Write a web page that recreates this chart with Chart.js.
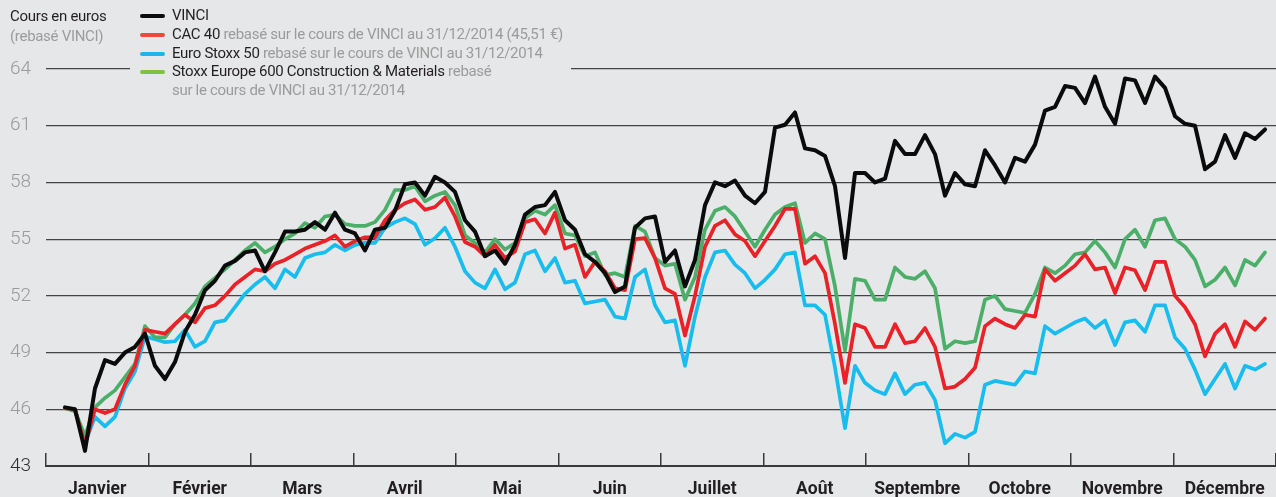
<!DOCTYPE html>
<html><head><meta charset="utf-8">
<script src="https://cdn.jsdelivr.net/npm/chart.js@4/dist/chart.umd.min.js"></script>
<style>
html,body{margin:0;padding:0;background:#e6e7e8;}
#wrap{position:relative;width:1276px;height:497px;overflow:hidden;background:#e6e7e8;font-family:Roboto,sans-serif;}
canvas{position:absolute;left:0;top:0;}
.ttl{position:absolute;left:10px;top:6px;font-size:15px;line-height:20px;color:#231f20;letter-spacing:-0.3px;}
.ttl span{color:#9b9b9b}
#legend{position:absolute;left:130px;top:6px;padding:0 8px 2px 10px;background:#e6e7e8;font-size:15px;line-height:18.8px;color:#231f20;letter-spacing:-0.3px;}
.row{position:relative;padding-left:32px;white-space:nowrap}
.sw{position:absolute;left:0;top:8px;width:25px;height:4px;border-radius:2px}
.g{color:#9b9b9b}
</style></head>
<body><div id="wrap"><canvas id="c" width="1276" height="497"></canvas>
<div class="ttl">Cours en euros<br><span>(rebasé VINCI)</span></div>
<div id="legend"></div>
</div>
<script>
// Month labels (x axis) and y ticks
const months = ["Janvier","Février","Mars","Avril","Mai","Juin","Juillet","Août","Septembre","Octobre","Novembre","Décembre"];
const yMin = 43, yMax = 64, yStep = 3;
// sample dates, in months since 1 January 2015 (first and last sample)
const firstSample = 0.185, lastSample = 11.893;

// Series names
const names = ["VINCI","CAC 40","Euro Stoxx 50","Stoxx Europe 600 Construction & Materials"];
const notes = ["", " rebasé sur le cours de VINCI au 31/12/2014 (45,51 €)", " rebasé sur le cours de VINCI au 31/12/2014", " rebasé<br>sur le cours de VINCI au 31/12/2014"];

// Values (euros, rebased on VINCI)
const vinci = [46.1,46.0,43.8,47.1,48.6,48.4,49.0,49.3,50.0,48.3,
 47.6,48.5,50.1,51.0,52.3,52.8,53.6,53.85,54.3,54.4,
 53.3,54.3,55.4,55.4,55.5,55.9,55.5,56.4,55.5,55.3,
 54.4,55.5,55.6,56.5,57.9,58.0,57.3,58.3,58.0,57.5,
 56.0,55.4,54.1,54.4,53.7,54.7,56.3,56.7,56.8,57.5,
 56.0,55.5,54.2,53.8,53.2,52.2,52.5,55.6,56.1,56.2,
 53.8,
 54.4,52.5,53.9,56.8,58.0,57.8,58.1,57.3,56.9,57.5,
 60.9,61.05,61.7,59.8,59.7,59.4,57.8,54.0,58.5,58.5,
 58.0,58.2,60.2,59.5,59.5,60.5,59.5,57.3,58.5,
 57.9,57.8,59.7,58.9,58.0,59.3,59.1,60.0,61.8,62.0,
 63.1,63.0,62.2,63.6,62.0,61.1,63.5,63.4,62.2,63.6,
 63.0,61.5,61.1,61.0,58.7,59.1,60.5,59.3,60.6,60.3,
 60.8];
const cac40 = [46.06,46.0,44.1,46.0,45.8,46.0,47.3,48.3,50.2,50.1,
 50.0,50.5,51.0,50.6,51.35,51.5,52.0,52.6,53.0,53.4,
 53.3,53.7,53.9,54.2,54.5,54.7,54.9,55.2,54.6,54.9,
 55.1,55.1,56.0,56.55,56.9,57.1,56.55,56.7,57.2,56.2,
 54.85,54.6,54.1,54.7,54.0,54.35,55.9,56.05,55.3,56.4,
 54.5,54.7,53.0,53.8,53.3,52.4,52.3,55.0,55.05,54.0,
 52.4,
 52.1,49.9,52.0,54.6,55.7,56.0,55.25,54.9,54.1,54.9,
 55.7,56.6,56.6,53.7,54.1,53.2,50.5,47.4,50.5,50.3,
 49.3,49.3,50.5,49.5,49.6,50.3,49.3,47.1,47.2,
 47.6,48.2,50.4,50.8,50.5,50.3,51.0,50.9,53.4,52.8,
 53.2,53.6,54.2,53.4,53.5,52.15,53.5,53.35,52.3,53.8,
 53.8,52.0,51.4,50.5,48.8,50.0,50.5,49.3,50.65,50.2,
 50.8];
const euroStoxx50 = [46.06,46.0,44.2,45.6,45.1,45.6,47.1,48.0,49.85,49.7,
 49.55,49.6,50.2,49.3,49.6,50.6,50.7,51.4,52.1,52.6,
 53.0,52.4,53.4,53.0,54.0,54.2,54.3,54.7,54.4,54.7,
 54.8,54.8,55.6,55.9,56.1,55.8,54.7,55.05,55.6,54.6,
 53.3,52.7,52.4,53.4,52.35,52.7,54.2,54.4,53.3,54.0,
 52.7,52.8,51.6,51.7,51.8,50.9,50.8,53.0,53.4,51.5,
 50.6,
 50.7,48.3,50.9,53.0,54.3,54.4,53.65,53.2,52.4,52.85,
 53.4,54.2,54.3,51.5,51.5,51.0,48.2,45.0,48.3,47.4,
 47.0,46.8,47.9,46.8,47.3,47.4,46.5,44.2,44.7,
 44.5,44.8,47.3,47.5,47.4,47.3,48.0,47.9,50.4,50.0,
 50.3,50.6,50.8,50.3,50.7,49.4,50.6,50.7,50.1,51.5,
 51.5,49.8,49.2,48.1,46.8,47.6,48.4,47.1,48.3,48.1,
 48.4];
const stoxx600Constr = [46.06,45.9,44.6,46.1,46.6,47.0,47.7,48.4,50.4,49.8,
 49.8,50.5,51.0,51.6,52.5,52.95,53.4,53.9,54.4,54.8,
 54.3,54.6,55.0,55.3,55.85,55.6,56.2,56.3,55.8,55.7,
 55.7,55.9,56.55,57.6,57.6,57.8,57.0,57.3,57.5,56.8,
 55.2,54.8,54.3,55.0,54.45,54.8,56.1,56.5,56.3,56.8,
 55.3,55.2,54.1,54.3,53.1,53.2,53.0,55.7,55.4,54.0,
 53.6,
 53.7,51.8,53.0,55.5,56.5,56.7,56.2,55.4,54.6,55.5,
 56.3,56.7,56.9,54.8,55.3,55.0,52.5,49.1,52.9,52.8,
 51.8,51.8,53.5,53.0,52.9,53.3,52.4,49.2,49.6,
 49.5,49.6,51.8,52.0,51.3,51.2,51.1,52.1,53.5,53.2,
 53.6,54.2,54.3,54.9,54.3,53.5,55.0,55.5,54.6,56.0,
 56.1,55.0,54.6,53.9,52.5,52.85,53.5,52.55,53.9,53.6,
 54.3];

const colors = ["#0b0b0b","#ea2228","#17bdef","#4caf69"];
const legendColors = ["#0b0b0b","#ef4a38","#1cb5ec","#7fc241"];
const series = [vinci, cac40, euroStoxx50, stoxx600Constr];

// legend (HTML, real text)
const leg = document.getElementById('legend');
names.forEach((n,i)=>{
  const r = document.createElement('div'); r.className='row';
  r.innerHTML = '<span class="sw" style="background:'+legendColors[i]+'"></span>'+n.replace('&','&amp;')+'<span class="g">'+notes[i]+'</span>';
  leg.appendChild(r);
});

const toPoints = vals => vals.map((v,i)=>({x: firstSample + i*(lastSample-firstSample)/(vals.length-1), y: v}));

const datasets = series.map((s,i)=>({
  label: names[i], data: toPoints(s), xAxisID:'xd', yAxisID:'y',
  borderColor: colors[i], borderWidth: i===0?4:3.7, pointRadius:0, tension:0,
  borderJoinStyle:'round', borderCapStyle:'round', fill:false, order:[0,1,3,2][i]
}));

new Chart(document.getElementById('c'), {
  type:'line',
  data:{ datasets },
  options:{
    responsive:false, animation:false, events:[],
    layout:{ padding:{ left:10, top:69, right:0, bottom:0 } },
    plugins:{ legend:{display:false}, tooltip:{enabled:false} },
    scales:{
      x:{ type:'category', labels: months, offset:true, position:'bottom',
          grid:{ offset:true, drawOnChartArea:false, drawTicks:true, tickLength:-13, color:'#3a3a3a', lineWidth:1.5 },
          border:{ display:true, color:'#3a3a3a', width:2 },
          ticks:{ color:'#231f20', font:{ family:'Roboto', size:17.5, weight:'700' }, padding:26, maxRotation:0, autoSkip:false },
          afterFit(s){ s.height = 31; s.paddingLeft = 0; s.paddingRight = 0; } },
      xd:{ type:'linear', min:0, max:12, display:false },
      y:{ min:yMin, max:yMax,
          ticks:{ stepSize:yStep, crossAlign:'far', padding:0,
                  color: c => c.tick.value===yMin ? '#2e2e2e' : '#9a9a9a',
                  font:{ family:'Roboto', size:19, weight:'300' } },
          grid:{ color:'#444444', lineWidth:1.2, drawTicks:false },
          border:{ display:false },
          afterFit(s){ s.width = 36; } }
    }
  }
});
</script>
</body></html>
